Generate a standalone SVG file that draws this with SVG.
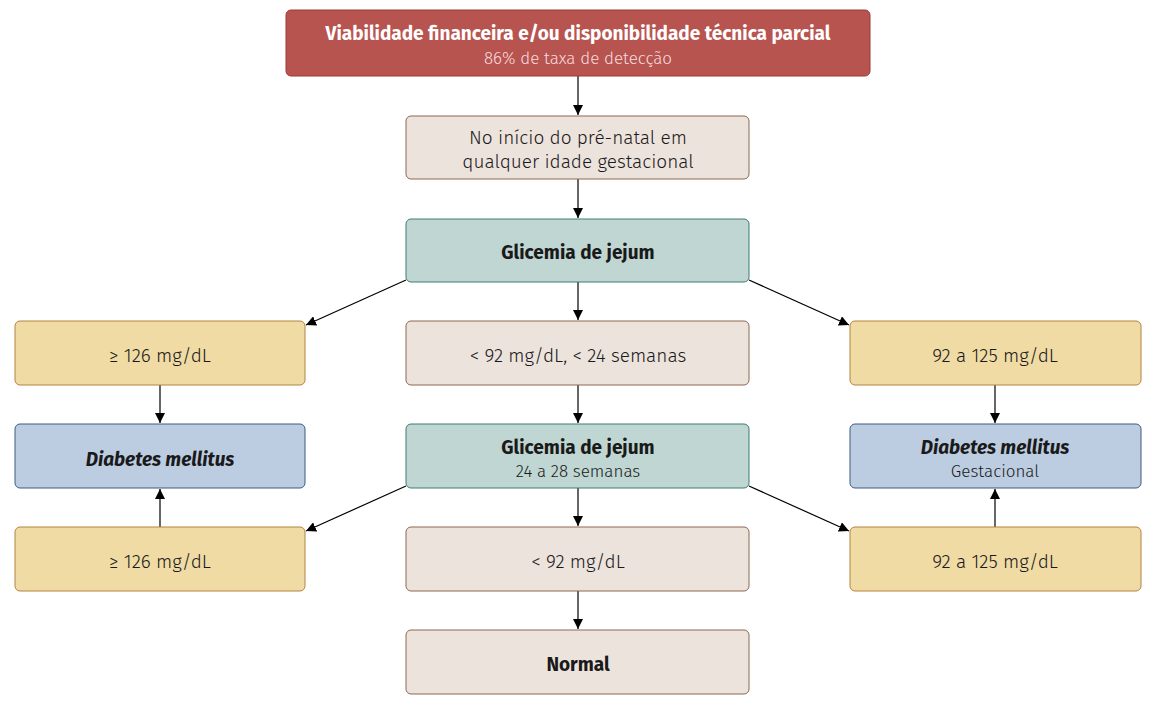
<svg xmlns="http://www.w3.org/2000/svg" width="1159" height="707" viewBox="0 0 1159 707">
<style>
text{font-family:"Fira Sans","Open Sans","Noto Sans",sans-serif;text-anchor:middle;fill:#1a1a1a}
.t{font-size:19px;font-weight:300}
.b{font-size:19px;font-weight:700}
.bi{font-size:19px;font-weight:700;font-style:italic}
.s{font-size:17px;font-weight:300}
.red{fill:#b85450;stroke:#9a3b37;stroke-width:1}
.beige{fill:#ede3dd;stroke:#8f6650;stroke-width:1}
.teal{fill:#bfd6d3;stroke:#3d7c70;stroke-width:1}
.yel{fill:#f0dba5;stroke:#b5823f;stroke-width:1}
.blue{fill:#bccde2;stroke:#3f5b80;stroke-width:1}
.c{stroke:#000;stroke-width:1.2;fill:none;marker-end:url(#ah)}
</style>
<defs>
<marker id="ah" viewBox="0 0 10 10" refX="10" refY="5" markerWidth="10" markerHeight="10" markerUnits="userSpaceOnUse" orient="auto">
<path d="M0,0 L10,5 L0,10 z" fill="#000"/>
</marker>
</defs>
<rect width="1159" height="707" fill="#fff"/>
<g id="connectors">
<line class="c" x1="578" y1="76" x2="578" y2="115"/>
<line class="c" x1="578" y1="179" x2="578" y2="218"/>
<line class="c" x1="578" y1="282" x2="578" y2="320"/>
<line class="c" x1="406" y1="280" x2="306" y2="325"/>
<line class="c" x1="749" y1="280" x2="849" y2="325"/>
<line class="c" x1="160" y1="385" x2="160" y2="423"/>
<line class="c" x1="995" y1="385" x2="995" y2="423"/>
<line class="c" x1="578" y1="385" x2="578" y2="423"/>
<line class="c" x1="406" y1="486" x2="306" y2="531"/>
<line class="c" x1="749" y1="486" x2="849" y2="531"/>
<line class="c" x1="578" y1="488" x2="578" y2="526"/>
<line class="c" x1="160" y1="527" x2="160" y2="489"/>
<line class="c" x1="995" y1="527" x2="995" y2="489"/>
<line class="c" x1="578" y1="591" x2="578" y2="629"/>
</g>
<g id="n-top">
<rect class="red" x="286" y="10" width="584" height="66" rx="5"/>
<text class="b" x="578" y="40" style="fill:#fff">Viabilidade financeira e/ou disponibilidade técnica parcial</text>
<text class="s" x="578" y="64" style="fill:#f6dcdc">86% de taxa de detecção</text>
</g>
<g id="n-inicio">
<rect class="beige" x="406" y="116" width="343" height="63" rx="5"/>
<text class="t" x="578" y="144">No início do pré-natal em</text>
<text class="t" x="578" y="168">qualquer idade gestacional</text>
</g>
<g id="n-gj1">
<rect class="teal" x="406" y="219" width="343" height="63" rx="5"/>
<text class="b" x="578" y="259">Glicemia de jejum</text>
</g>
<g id="n-l1">
<rect class="yel" x="15" y="321" width="290" height="64" rx="5"/>
<text class="t" x="160" y="362">≥ 126 mg/dL</text>
</g>
<g id="n-m1">
<rect class="beige" x="406" y="321" width="343" height="64" rx="5"/>
<text class="t" x="578" y="362">&lt; 92 mg/dL, &lt; 24 semanas</text>
</g>
<g id="n-r1">
<rect class="yel" x="850" y="321" width="291" height="64" rx="5"/>
<text class="t" x="995" y="362">92 a 125 mg/dL</text>
</g>
<g id="n-dm">
<rect class="blue" x="15" y="424" width="290" height="64" rx="5"/>
<text class="bi" x="160" y="466">Diabetes mellitus</text>
</g>
<g id="n-gj2">
<rect class="teal" x="406" y="424" width="343" height="64" rx="5"/>
<text class="b" x="578" y="454">Glicemia de jejum</text>
<text class="s" x="578" y="477">24 a 28 semanas</text>
</g>
<g id="n-dmg">
<rect class="blue" x="850" y="424" width="291" height="64" rx="5"/>
<text class="bi" x="995" y="454">Diabetes mellitus</text>
<text class="s" x="995" y="477">Gestacional</text>
</g>
<g id="n-l2">
<rect class="yel" x="15" y="527" width="290" height="64" rx="5"/>
<text class="t" x="160" y="568">≥ 126 mg/dL</text>
</g>
<g id="n-m2">
<rect class="beige" x="406" y="527" width="343" height="64" rx="5"/>
<text class="t" x="578" y="568">&lt; 92 mg/dL</text>
</g>
<g id="n-r2">
<rect class="yel" x="850" y="527" width="291" height="64" rx="5"/>
<text class="t" x="995" y="568">92 a 125 mg/dL</text>
</g>
<g id="n-normal">
<rect class="beige" x="406" y="630" width="343" height="64" rx="5"/>
<text class="b" x="578" y="671">Normal</text>
</g>
</svg>
